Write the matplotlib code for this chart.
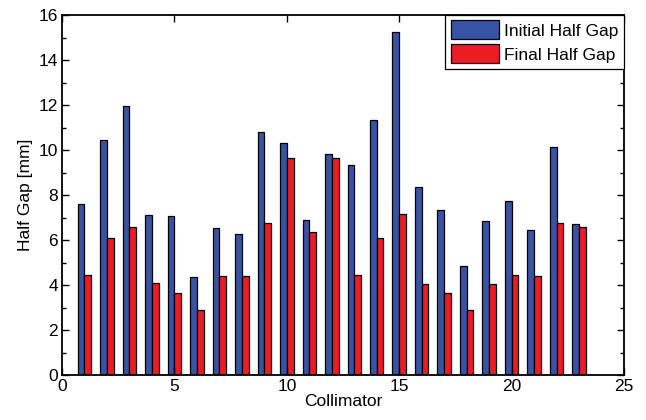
import matplotlib
matplotlib.use("Agg")
import matplotlib.pyplot as plt
import numpy as np
from matplotlib.ticker import MultipleLocator

plt.rcParams['font.family'] = ['Liberation Sans', 'DejaVu Sans']

collimator = np.arange(1, 24)
initial_gap = [7.6, 10.43, 11.96, 7.1, 7.05, 4.37, 6.52, 6.27, 10.8, 10.3, 6.89, 9.82,
               9.32, 11.35, 15.26, 8.34, 7.33, 4.84, 6.87, 7.72, 6.47, 10.13, 6.7]
final_gap = [4.47, 6.1, 6.58, 4.09, 3.66, 2.89, 4.39, 4.4, 6.74, 9.67, 6.34, 9.67,
             4.46, 6.1, 7.14, 4.07, 3.66, 2.89, 4.06, 4.43, 4.4, 6.74, 6.58]

fig = plt.figure(figsize=(6.46, 4.2), dpi=100)
ax = fig.add_axes([0.096, 0.107, 0.87, 0.857])

w = 0.3
ax.bar(collimator - w / 2, initial_gap, w, color='#3953a4', edgecolor='black',
       linewidth=0.9, label='Initial Half Gap')
ax.bar(collimator + w / 2, final_gap, w, color='#ed1c24', edgecolor='black',
       linewidth=0.9, label='Final Half Gap')

ax.set_xlim(0, 25)
ax.set_ylim(0, 16)
ax.xaxis.set_major_locator(MultipleLocator(5))
ax.yaxis.set_major_locator(MultipleLocator(2))
ax.yaxis.set_minor_locator(MultipleLocator(1))
ax.tick_params(which='both', direction='in', top=True, right=True, labelsize=12.5, width=1.0)
ax.tick_params(which='major', length=5, pad=3)
ax.tick_params(which='minor', length=3)
for s in ax.spines.values():
    s.set_linewidth(1.3)

ax.set_xlabel('Collimator', fontsize=12.5, labelpad=0)
ax.set_ylabel('Half Gap [mm]', fontsize=12.5)

leg = ax.legend(loc='upper right', fontsize=12.5, fancybox=False, framealpha=1,
                edgecolor='black', borderaxespad=0, handlelength=2.8,
                handleheight=1.3, handletextpad=0.3, borderpad=0.3, labelspacing=0.3)
leg.get_frame().set_linewidth(0.9)

fig.savefig('out.png', dpi=100)
